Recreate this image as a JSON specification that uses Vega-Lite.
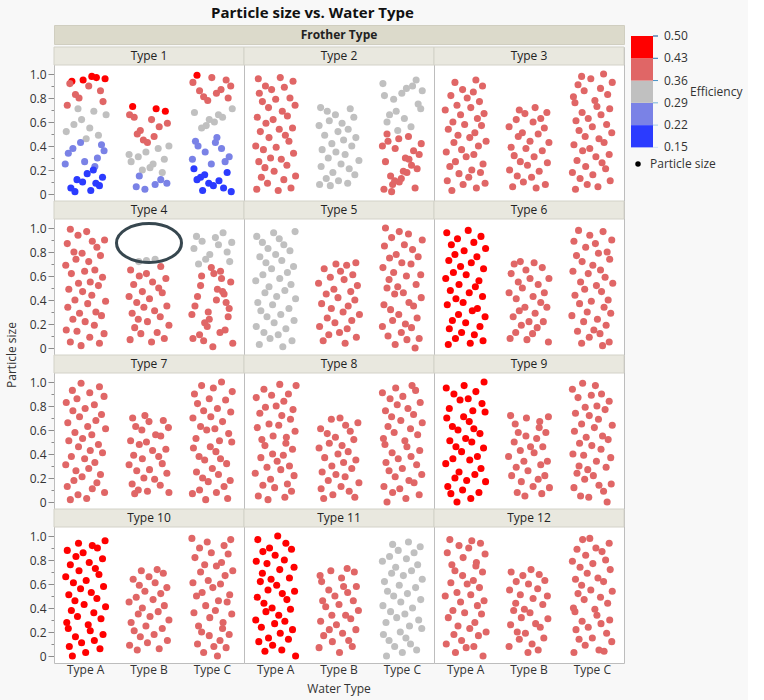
{
"$schema":"https://vega.github.io/schema/vega-lite/v6.json",
"background":"#F8F8F8",
"padding":5,
"title":{"text":"Particle size vs. Water Type","fontSize":15,"fontWeight":"bold","font":"Open Sans","color":"#111111","anchor":"start","frame":"bounds","dx":205},
"datasets":{
"leg":[{"lo":0.15,"hi":0.22,"e":0.185},{"lo":0.22,"hi":0.29,"e":0.255},{"lo":0.29,"hi":0.36,"e":0.325},{"lo":0.36,"hi":0.43,"e":0.395},{"lo":0.43,"hi":0.5,"e":0.465}],
"lt":[{"v":0.15},{"v":0.22},{"v":0.29},{"v":0.36},{"v":0.43},{"v":0.5}],
"grp":[
{"g":"1Ar","n":"Type 1","w":"Type A","r":1,"c":1,"e":0.47},{"g":"1As","n":"Type 1","w":"Type A","r":1,"c":1,"e":0.40},{"g":"1Ag","n":"Type 1","w":"Type A","r":1,"c":1,"e":0.33},{"g":"1Al","n":"Type 1","w":"Type A","r":1,"c":1,"e":0.26},{"g":"1Ab","n":"Type 1","w":"Type A","r":1,"c":1,"e":0.18},
{"g":"1Br","n":"Type 1","w":"Type B","r":1,"c":1,"e":0.47},{"g":"1Bs","n":"Type 1","w":"Type B","r":1,"c":1,"e":0.40},{"g":"1Bg","n":"Type 1","w":"Type B","r":1,"c":1,"e":0.33},{"g":"1Bl","n":"Type 1","w":"Type B","r":1,"c":1,"e":0.26},
{"g":"1Cr","n":"Type 1","w":"Type C","r":1,"c":1,"e":0.47},{"g":"1Cs","n":"Type 1","w":"Type C","r":1,"c":1,"e":0.40},{"g":"1Cg","n":"Type 1","w":"Type C","r":1,"c":1,"e":0.33},{"g":"1Cl","n":"Type 1","w":"Type C","r":1,"c":1,"e":0.26},{"g":"1Cb","n":"Type 1","w":"Type C","r":1,"c":1,"e":0.18},
{"g":"2A","n":"Type 2","w":"Type A","r":1,"c":2,"e":0.40},{"g":"2B","n":"Type 2","w":"Type B","r":1,"c":2,"e":0.33},{"g":"2Cg","n":"Type 2","w":"Type C","r":1,"c":2,"e":0.33},{"g":"2Cs","n":"Type 2","w":"Type C","r":1,"c":2,"e":0.40},
{"g":"3A","n":"Type 3","w":"Type A","r":1,"c":3,"e":0.40},{"g":"3B","n":"Type 3","w":"Type B","r":1,"c":3,"e":0.40},{"g":"3C","n":"Type 3","w":"Type C","r":1,"c":3,"e":0.40},
{"g":"4A","n":"Type 4","w":"Type A","r":2,"c":1,"e":0.40},{"g":"4Bg","n":"Type 4","w":"Type B","r":2,"c":1,"e":0.33},{"g":"4Bs","n":"Type 4","w":"Type B","r":2,"c":1,"e":0.40},{"g":"4Cg","n":"Type 4","w":"Type C","r":2,"c":1,"e":0.33},{"g":"4Cs","n":"Type 4","w":"Type C","r":2,"c":1,"e":0.40},
{"g":"5A","n":"Type 5","w":"Type A","r":2,"c":2,"e":0.33},{"g":"5B","n":"Type 5","w":"Type B","r":2,"c":2,"e":0.40},{"g":"5C","n":"Type 5","w":"Type C","r":2,"c":2,"e":0.40},
{"g":"6A","n":"Type 6","w":"Type A","r":2,"c":3,"e":0.47},{"g":"6B","n":"Type 6","w":"Type B","r":2,"c":3,"e":0.40},{"g":"6C","n":"Type 6","w":"Type C","r":2,"c":3,"e":0.40},
{"g":"7A","n":"Type 7","w":"Type A","r":3,"c":1,"e":0.40},{"g":"7B","n":"Type 7","w":"Type B","r":3,"c":1,"e":0.40},{"g":"7C","n":"Type 7","w":"Type C","r":3,"c":1,"e":0.40},
{"g":"8A","n":"Type 8","w":"Type A","r":3,"c":2,"e":0.40},{"g":"8B","n":"Type 8","w":"Type B","r":3,"c":2,"e":0.40},{"g":"8C","n":"Type 8","w":"Type C","r":3,"c":2,"e":0.40},
{"g":"9A","n":"Type 9","w":"Type A","r":3,"c":3,"e":0.47},{"g":"9B","n":"Type 9","w":"Type B","r":3,"c":3,"e":0.40},{"g":"9C","n":"Type 9","w":"Type C","r":3,"c":3,"e":0.40},
{"g":"10A","n":"Type 10","w":"Type A","r":4,"c":1,"e":0.47},{"g":"10B","n":"Type 10","w":"Type B","r":4,"c":1,"e":0.40},{"g":"10C","n":"Type 10","w":"Type C","r":4,"c":1,"e":0.40},
{"g":"11A","n":"Type 11","w":"Type A","r":4,"c":2,"e":0.47},{"g":"11B","n":"Type 11","w":"Type B","r":4,"c":2,"e":0.40},{"g":"11C","n":"Type 11","w":"Type C","r":4,"c":2,"e":0.33},
{"g":"12A","n":"Type 12","w":"Type A","r":4,"c":3,"e":0.40},{"g":"12B","n":"Type 12","w":"Type B","r":4,"c":3,"e":0.40},{"g":"12C","n":"Type 12","w":"Type C","r":4,"c":3,"e":0.40},
{"g":"ann","n":"Type 4","w":"Type B","r":2,"c":1}
],
"pts":[
{"g":"1Ar","j":23,"y":0.94},{"g":"1Ar","j":71,"y":0.97},{"g":"1Ar","j":45,"y":0.95},{"g":"1Ar","j":88,"y":0.96},{"g":"1Ar","j":62,"y":0.98},
{"g":"1As","j":14,"y":0.74},{"g":"1As","j":56,"y":0.90},{"g":"1As","j":37,"y":0.80},{"g":"1As","j":79,"y":0.86},{"g":"1As","j":19,"y":0.92},{"g":"1As","j":84,"y":0.77},{"g":"1As","j":30,"y":0.83},
{"g":"1Ag","j":51,"y":0.46},{"g":"1Ag","j":66,"y":0.69},{"g":"1Ag","j":12,"y":0.52},{"g":"1Ag","j":42,"y":0.62},{"g":"1Ag","j":75,"y":0.49},{"g":"1Ag","j":27,"y":0.58},{"g":"1Ag","j":90,"y":0.66},{"g":"1Ag","j":58,"y":0.55},{"g":"1Ag","j":35,"y":0.71},
{"g":"1Al","j":68,"y":0.23},{"g":"1Al","j":16,"y":0.34},{"g":"1Al","j":81,"y":0.41},{"g":"1Al","j":48,"y":0.27},{"g":"1Al","j":25,"y":0.38},{"g":"1Al","j":73,"y":0.30},{"g":"1Al","j":40,"y":0.43},{"g":"1Al","j":86,"y":0.36},{"g":"1Al","j":10,"y":0.25},
{"g":"1Ab","j":60,"y":0.03},{"g":"1Ab","j":33,"y":0.12},{"g":"1Ab","j":77,"y":0.07},{"g":"1Ab","j":53,"y":0.17},{"g":"1Ab","j":21,"y":0.05},{"g":"1Ab","j":65,"y":0.20},{"g":"1Ab","j":44,"y":0.10},{"g":"1Ab","j":83,"y":0.14},{"g":"1Ab","j":29,"y":0.02},{"g":"1Ab","j":70,"y":0.09},
{"g":"1Br","j":64,"y":0.71},{"g":"1Br","j":18,"y":0.73},{"g":"1Br","j":82,"y":0.69},
{"g":"1Bs","j":39,"y":0.45},{"g":"1Bs","j":55,"y":0.62},{"g":"1Bs","j":27,"y":0.50},{"g":"1Bs","j":70,"y":0.56},{"g":"1Bs","j":12,"y":0.66},{"g":"1Bs","j":47,"y":0.43},{"g":"1Bs","j":86,"y":0.59},{"g":"1Bs","j":33,"y":0.53},{"g":"1Bs","j":60,"y":0.48},{"g":"1Bs","j":21,"y":0.64},
{"g":"1Bg","j":76,"y":0.18},{"g":"1Bg","j":44,"y":0.35},{"g":"1Bg","j":15,"y":0.27},{"g":"1Bg","j":89,"y":0.40},{"g":"1Bg","j":52,"y":0.22},{"g":"1Bg","j":29,"y":0.31},{"g":"1Bg","j":68,"y":0.38},{"g":"1Bg","j":37,"y":0.20},{"g":"1Bg","j":80,"y":0.29},{"g":"1Bg","j":11,"y":0.33},{"g":"1Bg","j":58,"y":0.25},
{"g":"1Bl","j":25,"y":0.06},{"g":"1Bl","j":73,"y":0.12},{"g":"1Bl","j":42,"y":0.04},{"g":"1Bl","j":85,"y":0.09},{"g":"1Bl","j":31,"y":0.15},{"g":"1Bl","j":62,"y":0.08},
{"g":"1Cr","j":20,"y":0.99},
{"g":"1Cs","j":41,"y":0.78},{"g":"1Cs","j":77,"y":0.95},{"g":"1Cs","j":58,"y":0.84},{"g":"1Cs","j":86,"y":0.90},{"g":"1Cs","j":33,"y":0.81},{"g":"1Cs","j":12,"y":0.93},{"g":"1Cs","j":67,"y":0.87},{"g":"1Cs","j":49,"y":0.97},{"g":"1Cs","j":25,"y":0.86},{"g":"1Cs","j":81,"y":0.80},
{"g":"1Cg","j":38,"y":0.57},{"g":"1Cg","j":70,"y":0.64},{"g":"1Cg","j":15,"y":0.68},{"g":"1Cg","j":54,"y":0.60},{"g":"1Cg","j":89,"y":0.71},{"g":"1Cg","j":29,"y":0.55},{"g":"1Cg","j":62,"y":0.66},{"g":"1Cg","j":44,"y":0.62},
{"g":"1Cl","j":17,"y":0.44},{"g":"1Cl","j":75,"y":0.27},{"g":"1Cl","j":36,"y":0.35},{"g":"1Cl","j":59,"y":0.47},{"g":"1Cl","j":83,"y":0.31},{"g":"1Cl","j":22,"y":0.40},{"g":"1Cl","j":48,"y":0.25},{"g":"1Cl","j":68,"y":0.38},{"g":"1Cl","j":11,"y":0.29},{"g":"1Cl","j":56,"y":0.43},
{"g":"1Cb","j":31,"y":0.03},{"g":"1Cb","j":79,"y":0.18},{"g":"1Cb","j":43,"y":0.09},{"g":"1Cb","j":27,"y":0.14},{"g":"1Cb","j":72,"y":0.05},{"g":"1Cb","j":14,"y":0.21},{"g":"1Cb","j":63,"y":0.11},{"g":"1Cb","j":87,"y":0.02},{"g":"1Cb","j":35,"y":0.16},{"g":"1Cb","j":52,"y":0.07},{"g":"1Cb","j":20,"y":0.12},
{"g":"2A","j":55,"y":0.03},{"g":"2A","j":13,"y":0.04},{"g":"2A","j":80,"y":0.05},{"g":"2A","j":34,"y":0.09},{"g":"2A","j":66,"y":0.12},{"g":"2A","j":22,"y":0.14},{"g":"2A","j":89,"y":0.15},{"g":"2A","j":47,"y":0.19},{"g":"2A","j":29,"y":0.22},{"g":"2A","j":72,"y":0.24},{"g":"2A","j":17,"y":0.27},{"g":"2A","j":61,"y":0.29},{"g":"2A","j":40,"y":0.30},{"g":"2A","j":85,"y":0.34},{"g":"2A","j":26,"y":0.37},{"g":"2A","j":51,"y":0.39},{"g":"2A","j":11,"y":0.40},{"g":"2A","j":76,"y":0.44},{"g":"2A","j":37,"y":0.47},{"g":"2A","j":69,"y":0.49},{"g":"2A","j":20,"y":0.52},{"g":"2A","j":57,"y":0.54},{"g":"2A","j":83,"y":0.55},{"g":"2A","j":31,"y":0.59},{"g":"2A","j":45,"y":0.62},{"g":"2A","j":14,"y":0.64},{"g":"2A","j":73,"y":0.65},{"g":"2A","j":63,"y":0.69},{"g":"2A","j":36,"y":0.72},{"g":"2A","j":88,"y":0.74},{"g":"2A","j":24,"y":0.77},{"g":"2A","j":50,"y":0.79},{"g":"2A","j":78,"y":0.80},{"g":"2A","j":18,"y":0.84},{"g":"2A","j":42,"y":0.87},{"g":"2A","j":67,"y":0.89},{"g":"2A","j":30,"y":0.90},{"g":"2A","j":84,"y":0.94},{"g":"2A","j":59,"y":0.97},{"g":"2A","j":16,"y":0.96},
{"g":"2B","j":33,"y":0.07},{"g":"2B","j":12,"y":0.08},{"g":"2B","j":67,"y":0.09},{"g":"2B","j":49,"y":0.11},{"g":"2B","j":25,"y":0.13},{"g":"2B","j":81,"y":0.16},{"g":"2B","j":38,"y":0.18},{"g":"2B","j":70,"y":0.21},{"g":"2B","j":15,"y":0.23},{"g":"2B","j":54,"y":0.25},{"g":"2B","j":89,"y":0.28},{"g":"2B","j":29,"y":0.30},{"g":"2B","j":62,"y":0.33},{"g":"2B","j":44,"y":0.35},{"g":"2B","j":17,"y":0.37},{"g":"2B","j":75,"y":0.40},{"g":"2B","j":36,"y":0.42},{"g":"2B","j":59,"y":0.45},{"g":"2B","j":83,"y":0.47},{"g":"2B","j":22,"y":0.49},{"g":"2B","j":48,"y":0.52},{"g":"2B","j":68,"y":0.54},{"g":"2B","j":11,"y":0.57},{"g":"2B","j":56,"y":0.59},{"g":"2B","j":31,"y":0.61},{"g":"2B","j":79,"y":0.64},{"g":"2B","j":43,"y":0.66},{"g":"2B","j":27,"y":0.69},{"g":"2B","j":72,"y":0.71},{"g":"2B","j":14,"y":0.72},
{"g":"2Cg","j":41,"y":0.53},{"g":"2Cg","j":77,"y":0.95},{"g":"2Cg","j":20,"y":0.60},{"g":"2Cg","j":58,"y":0.88},{"g":"2Cg","j":86,"y":0.71},{"g":"2Cg","j":33,"y":0.79},{"g":"2Cg","j":12,"y":0.92},{"g":"2Cg","j":67,"y":0.56},{"g":"2Cg","j":49,"y":0.84},{"g":"2Cg","j":25,"y":0.66},{"g":"2Cg","j":81,"y":0.75},{"g":"2Cg","j":38,"y":0.69},{"g":"2Cg","j":70,"y":0.90},{"g":"2Cg","j":15,"y":0.82},{"g":"2Cg","j":54,"y":0.63},{"g":"2Cg","j":89,"y":0.86},
{"g":"2Cs","j":29,"y":0.02},{"g":"2Cs","j":62,"y":0.48},{"g":"2Cs","j":44,"y":0.10},{"g":"2Cs","j":17,"y":0.27},{"g":"2Cs","j":75,"y":0.05},{"g":"2Cs","j":36,"y":0.38},{"g":"2Cs","j":59,"y":0.18},{"g":"2Cs","j":83,"y":0.33},{"g":"2Cs","j":22,"y":0.44},{"g":"2Cs","j":48,"y":0.13},{"g":"2Cs","j":68,"y":0.24},{"g":"2Cs","j":11,"y":0.40},{"g":"2Cs","j":56,"y":0.30},{"g":"2Cs","j":31,"y":0.08},{"g":"2Cs","j":79,"y":0.21},{"g":"2Cs","j":43,"y":0.46},{"g":"2Cs","j":27,"y":0.15},{"g":"2Cs","j":72,"y":0.36},{"g":"2Cs","j":14,"y":0.04},{"g":"2Cs","j":63,"y":0.29},{"g":"2Cs","j":87,"y":0.42},{"g":"2Cs","j":35,"y":0.11},{"g":"2Cs","j":52,"y":0.19},{"g":"2Cs","j":20,"y":0.50},
{"g":"3A","j":23,"y":0.03},{"g":"3A","j":71,"y":0.05},{"g":"3A","j":45,"y":0.08},{"g":"3A","j":88,"y":0.09},{"g":"3A","j":14,"y":0.11},{"g":"3A","j":56,"y":0.14},{"g":"3A","j":37,"y":0.17},{"g":"3A","j":79,"y":0.18},{"g":"3A","j":62,"y":0.20},{"g":"3A","j":19,"y":0.23},{"g":"3A","j":84,"y":0.25},{"g":"3A","j":30,"y":0.27},{"g":"3A","j":51,"y":0.31},{"g":"3A","j":66,"y":0.33},{"g":"3A","j":12,"y":0.35},{"g":"3A","j":42,"y":0.37},{"g":"3A","j":75,"y":0.40},{"g":"3A","j":27,"y":0.43},{"g":"3A","j":90,"y":0.44},{"g":"3A","j":58,"y":0.47},{"g":"3A","j":35,"y":0.49},{"g":"3A","j":68,"y":0.51},{"g":"3A","j":16,"y":0.54},{"g":"3A","j":81,"y":0.57},{"g":"3A","j":48,"y":0.58},{"g":"3A","j":25,"y":0.60},{"g":"3A","j":73,"y":0.63},{"g":"3A","j":40,"y":0.66},{"g":"3A","j":86,"y":0.67},{"g":"3A","j":10,"y":0.70},{"g":"3A","j":60,"y":0.72},{"g":"3A","j":33,"y":0.74},{"g":"3A","j":77,"y":0.77},{"g":"3A","j":53,"y":0.80},{"g":"3A","j":21,"y":0.82},{"g":"3A","j":65,"y":0.85},{"g":"3A","j":44,"y":0.87},{"g":"3A","j":83,"y":0.90},{"g":"3A","j":29,"y":0.93},{"g":"3A","j":70,"y":0.95},
{"g":"3B","j":64,"y":0.05},{"g":"3B","j":18,"y":0.06},{"g":"3B","j":82,"y":0.08},{"g":"3B","j":39,"y":0.10},{"g":"3B","j":55,"y":0.14},{"g":"3B","j":27,"y":0.15},{"g":"3B","j":70,"y":0.19},{"g":"3B","j":12,"y":0.20},{"g":"3B","j":47,"y":0.24},{"g":"3B","j":86,"y":0.26},{"g":"3B","j":33,"y":0.27},{"g":"3B","j":60,"y":0.31},{"g":"3B","j":21,"y":0.32},{"g":"3B","j":76,"y":0.36},{"g":"3B","j":44,"y":0.38},{"g":"3B","j":15,"y":0.39},{"g":"3B","j":89,"y":0.43},{"g":"3B","j":52,"y":0.44},{"g":"3B","j":29,"y":0.48},{"g":"3B","j":68,"y":0.50},{"g":"3B","j":37,"y":0.51},{"g":"3B","j":80,"y":0.55},{"g":"3B","j":11,"y":0.56},{"g":"3B","j":58,"y":0.60},{"g":"3B","j":25,"y":0.62},{"g":"3B","j":73,"y":0.63},{"g":"3B","j":42,"y":0.67},{"g":"3B","j":85,"y":0.68},{"g":"3B","j":31,"y":0.70},{"g":"3B","j":62,"y":0.72},
{"g":"3C","j":17,"y":0.04},{"g":"3C","j":61,"y":0.06},{"g":"3C","j":40,"y":0.08},{"g":"3C","j":85,"y":0.11},{"g":"3C","j":26,"y":0.13},{"g":"3C","j":51,"y":0.16},{"g":"3C","j":11,"y":0.18},{"g":"3C","j":76,"y":0.21},{"g":"3C","j":37,"y":0.23},{"g":"3C","j":69,"y":0.26},{"g":"3C","j":20,"y":0.28},{"g":"3C","j":57,"y":0.31},{"g":"3C","j":83,"y":0.33},{"g":"3C","j":31,"y":0.36},{"g":"3C","j":45,"y":0.38},{"g":"3C","j":14,"y":0.41},{"g":"3C","j":73,"y":0.43},{"g":"3C","j":63,"y":0.46},{"g":"3C","j":36,"y":0.48},{"g":"3C","j":88,"y":0.51},{"g":"3C","j":24,"y":0.53},{"g":"3C","j":50,"y":0.56},{"g":"3C","j":78,"y":0.58},{"g":"3C","j":18,"y":0.61},{"g":"3C","j":42,"y":0.63},{"g":"3C","j":67,"y":0.66},{"g":"3C","j":30,"y":0.68},{"g":"3C","j":84,"y":0.71},{"g":"3C","j":59,"y":0.73},{"g":"3C","j":16,"y":0.76},{"g":"3C","j":55,"y":0.78},{"g":"3C","j":13,"y":0.81},{"g":"3C","j":80,"y":0.83},{"g":"3C","j":34,"y":0.86},{"g":"3C","j":66,"y":0.88},{"g":"3C","j":22,"y":0.91},{"g":"3C","j":89,"y":0.93},{"g":"3C","j":47,"y":0.96},{"g":"3C","j":29,"y":0.98},{"g":"3C","j":72,"y":1.00},
{"g":"4A","j":41,"y":0.02},{"g":"4A","j":77,"y":0.04},{"g":"4A","j":20,"y":0.05},{"g":"4A","j":58,"y":0.09},{"g":"4A","j":86,"y":0.12},{"g":"4A","j":33,"y":0.14},{"g":"4A","j":12,"y":0.15},{"g":"4A","j":67,"y":0.19},{"g":"4A","j":49,"y":0.22},{"g":"4A","j":25,"y":0.24},{"g":"4A","j":81,"y":0.27},{"g":"4A","j":38,"y":0.29},{"g":"4A","j":70,"y":0.30},{"g":"4A","j":15,"y":0.34},{"g":"4A","j":54,"y":0.37},{"g":"4A","j":89,"y":0.39},{"g":"4A","j":29,"y":0.40},{"g":"4A","j":62,"y":0.44},{"g":"4A","j":44,"y":0.47},{"g":"4A","j":17,"y":0.49},{"g":"4A","j":75,"y":0.52},{"g":"4A","j":36,"y":0.54},{"g":"4A","j":59,"y":0.55},{"g":"4A","j":83,"y":0.59},{"g":"4A","j":22,"y":0.62},{"g":"4A","j":48,"y":0.64},{"g":"4A","j":68,"y":0.65},{"g":"4A","j":11,"y":0.69},{"g":"4A","j":56,"y":0.72},{"g":"4A","j":31,"y":0.74},{"g":"4A","j":79,"y":0.77},{"g":"4A","j":43,"y":0.79},{"g":"4A","j":27,"y":0.80},{"g":"4A","j":72,"y":0.84},{"g":"4A","j":14,"y":0.87},{"g":"4A","j":63,"y":0.89},{"g":"4A","j":87,"y":0.90},{"g":"4A","j":35,"y":0.94},{"g":"4A","j":52,"y":0.97},{"g":"4A","j":20,"y":0.99},
{"g":"4Bg","j":45,"y":0.73},{"g":"4Bg","j":62,"y":0.74},{"g":"4Bg","j":30,"y":0.72},
{"g":"4Bs","j":55,"y":0.05},{"g":"4Bs","j":13,"y":0.07},{"g":"4Bs","j":80,"y":0.08},{"g":"4Bs","j":34,"y":0.12},{"g":"4Bs","j":66,"y":0.13},{"g":"4Bs","j":22,"y":0.17},{"g":"4Bs","j":89,"y":0.19},{"g":"4Bs","j":47,"y":0.22},{"g":"4Bs","j":29,"y":0.24},{"g":"4Bs","j":72,"y":0.26},{"g":"4Bs","j":17,"y":0.29},{"g":"4Bs","j":61,"y":0.31},{"g":"4Bs","j":40,"y":0.34},{"g":"4Bs","j":85,"y":0.35},{"g":"4Bs","j":26,"y":0.38},{"g":"4Bs","j":51,"y":0.41},{"g":"4Bs","j":11,"y":0.43},{"g":"4Bs","j":76,"y":0.46},{"g":"4Bs","j":37,"y":0.47},{"g":"4Bs","j":69,"y":0.50},{"g":"4Bs","j":20,"y":0.53},{"g":"4Bs","j":57,"y":0.55},{"g":"4Bs","j":83,"y":0.58},{"g":"4Bs","j":31,"y":0.60},{"g":"4Bs","j":45,"y":0.62},{"g":"4Bs","j":14,"y":0.65},{"g":"4Bs","j":73,"y":0.68},
{"g":"4Cg","j":23,"y":0.70},{"g":"4Cg","j":71,"y":0.96},{"g":"4Cg","j":45,"y":0.78},{"g":"4Cg","j":88,"y":0.88},{"g":"4Cg","j":14,"y":0.83},{"g":"4Cg","j":56,"y":0.92},{"g":"4Cg","j":37,"y":0.74},{"g":"4Cg","j":79,"y":0.80},{"g":"4Cg","j":62,"y":0.86},{"g":"4Cg","j":19,"y":0.93},{"g":"4Cg","j":84,"y":0.72},{"g":"4Cg","j":30,"y":0.89},
{"g":"4Cs","j":51,"y":0.01},{"g":"4Cs","j":66,"y":0.64},{"g":"4Cs","j":12,"y":0.08},{"g":"4Cs","j":42,"y":0.30},{"g":"4Cs","j":75,"y":0.15},{"g":"4Cs","j":27,"y":0.52},{"g":"4Cs","j":90,"y":0.04},{"g":"4Cs","j":58,"y":0.40},{"g":"4Cs","j":35,"y":0.21},{"g":"4Cs","j":68,"y":0.58},{"g":"4Cs","j":16,"y":0.35},{"g":"4Cs","j":81,"y":0.26},{"g":"4Cs","j":48,"y":0.67},{"g":"4Cs","j":25,"y":0.11},{"g":"4Cs","j":73,"y":0.45},{"g":"4Cs","j":40,"y":0.18},{"g":"4Cs","j":86,"y":0.55},{"g":"4Cs","j":10,"y":0.28},{"g":"4Cs","j":60,"y":0.49},{"g":"4Cs","j":33,"y":0.06},{"g":"4Cs","j":77,"y":0.38},{"g":"4Cs","j":53,"y":0.62},{"g":"4Cs","j":21,"y":0.43},{"g":"4Cs","j":65,"y":0.13},{"g":"4Cs","j":44,"y":0.24},{"g":"4Cs","j":83,"y":0.33},{"g":"4Cs","j":29,"y":0.60},{"g":"4Cs","j":70,"y":0.47},
{"g":"5A","j":64,"y":0.01},{"g":"5A","j":18,"y":0.03},{"g":"5A","j":82,"y":0.06},{"g":"5A","j":39,"y":0.08},{"g":"5A","j":55,"y":0.11},{"g":"5A","j":27,"y":0.13},{"g":"5A","j":70,"y":0.16},{"g":"5A","j":12,"y":0.18},{"g":"5A","j":47,"y":0.21},{"g":"5A","j":86,"y":0.23},{"g":"5A","j":33,"y":0.26},{"g":"5A","j":60,"y":0.28},{"g":"5A","j":21,"y":0.31},{"g":"5A","j":76,"y":0.33},{"g":"5A","j":44,"y":0.36},{"g":"5A","j":15,"y":0.38},{"g":"5A","j":89,"y":0.41},{"g":"5A","j":52,"y":0.43},{"g":"5A","j":29,"y":0.46},{"g":"5A","j":68,"y":0.48},{"g":"5A","j":37,"y":0.51},{"g":"5A","j":80,"y":0.53},{"g":"5A","j":11,"y":0.56},{"g":"5A","j":58,"y":0.58},{"g":"5A","j":25,"y":0.61},{"g":"5A","j":73,"y":0.63},{"g":"5A","j":42,"y":0.66},{"g":"5A","j":85,"y":0.68},{"g":"5A","j":31,"y":0.71},{"g":"5A","j":62,"y":0.73},{"g":"5A","j":19,"y":0.76},{"g":"5A","j":50,"y":0.78},{"g":"5A","j":78,"y":0.81},{"g":"5A","j":35,"y":0.83},{"g":"5A","j":66,"y":0.86},{"g":"5A","j":24,"y":0.88},{"g":"5A","j":57,"y":0.91},{"g":"5A","j":13,"y":0.93},{"g":"5A","j":46,"y":0.96},{"g":"5A","j":88,"y":0.97},
{"g":"5B","j":62,"y":0.04},{"g":"5B","j":19,"y":0.06},{"g":"5B","j":84,"y":0.09},{"g":"5B","j":30,"y":0.11},{"g":"5B","j":51,"y":0.13},{"g":"5B","j":66,"y":0.16},{"g":"5B","j":12,"y":0.18},{"g":"5B","j":42,"y":0.21},{"g":"5B","j":75,"y":0.23},{"g":"5B","j":27,"y":0.25},{"g":"5B","j":90,"y":0.28},{"g":"5B","j":58,"y":0.30},{"g":"5B","j":35,"y":0.33},{"g":"5B","j":68,"y":0.35},{"g":"5B","j":16,"y":0.37},{"g":"5B","j":81,"y":0.40},{"g":"5B","j":48,"y":0.42},{"g":"5B","j":25,"y":0.45},{"g":"5B","j":73,"y":0.47},{"g":"5B","j":40,"y":0.49},{"g":"5B","j":86,"y":0.52},{"g":"5B","j":10,"y":0.54},{"g":"5B","j":60,"y":0.57},{"g":"5B","j":33,"y":0.59},{"g":"5B","j":77,"y":0.61},{"g":"5B","j":53,"y":0.64},{"g":"5B","j":21,"y":0.66},{"g":"5B","j":65,"y":0.69},{"g":"5B","j":44,"y":0.70},{"g":"5B","j":83,"y":0.71},
{"g":"5C","j":75,"y":0.00},{"g":"5C","j":36,"y":0.03},{"g":"5C","j":59,"y":0.07},{"g":"5C","j":83,"y":0.08},{"g":"5C","j":22,"y":0.10},{"g":"5C","j":48,"y":0.13},{"g":"5C","j":68,"y":0.17},{"g":"5C","j":11,"y":0.18},{"g":"5C","j":56,"y":0.20},{"g":"5C","j":31,"y":0.23},{"g":"5C","j":79,"y":0.25},{"g":"5C","j":43,"y":0.28},{"g":"5C","j":27,"y":0.32},{"g":"5C","j":72,"y":0.35},{"g":"5C","j":14,"y":0.36},{"g":"5C","j":63,"y":0.38},{"g":"5C","j":87,"y":0.42},{"g":"5C","j":35,"y":0.45},{"g":"5C","j":52,"y":0.46},{"g":"5C","j":20,"y":0.50},{"g":"5C","j":41,"y":0.51},{"g":"5C","j":77,"y":0.53},{"g":"5C","j":24,"y":0.57},{"g":"5C","j":58,"y":0.60},{"g":"5C","j":86,"y":0.61},{"g":"5C","j":33,"y":0.63},{"g":"5C","j":12,"y":0.67},{"g":"5C","j":67,"y":0.70},{"g":"5C","j":49,"y":0.71},{"g":"5C","j":25,"y":0.75},{"g":"5C","j":81,"y":0.76},{"g":"5C","j":38,"y":0.78},{"g":"5C","j":70,"y":0.82},{"g":"5C","j":15,"y":0.85},{"g":"5C","j":54,"y":0.86},{"g":"5C","j":89,"y":0.90},{"g":"5C","j":29,"y":0.92},{"g":"5C","j":62,"y":0.95},{"g":"5C","j":44,"y":0.97},{"g":"5C","j":17,"y":1.00},
{"g":"6A","j":16,"y":0.03},{"g":"6A","j":59,"y":0.04},{"g":"6A","j":84,"y":0.06},{"g":"6A","j":30,"y":0.08},{"g":"6A","j":67,"y":0.11},{"g":"6A","j":42,"y":0.13},{"g":"6A","j":18,"y":0.16},{"g":"6A","j":78,"y":0.18},{"g":"6A","j":50,"y":0.21},{"g":"6A","j":24,"y":0.23},{"g":"6A","j":88,"y":0.26},{"g":"6A","j":36,"y":0.28},{"g":"6A","j":63,"y":0.31},{"g":"6A","j":73,"y":0.33},{"g":"6A","j":14,"y":0.36},{"g":"6A","j":45,"y":0.38},{"g":"6A","j":31,"y":0.41},{"g":"6A","j":83,"y":0.43},{"g":"6A","j":57,"y":0.46},{"g":"6A","j":20,"y":0.48},{"g":"6A","j":69,"y":0.51},{"g":"6A","j":37,"y":0.53},{"g":"6A","j":76,"y":0.56},{"g":"6A","j":11,"y":0.58},{"g":"6A","j":51,"y":0.61},{"g":"6A","j":26,"y":0.63},{"g":"6A","j":85,"y":0.66},{"g":"6A","j":40,"y":0.68},{"g":"6A","j":61,"y":0.71},{"g":"6A","j":17,"y":0.73},{"g":"6A","j":72,"y":0.76},{"g":"6A","j":29,"y":0.78},{"g":"6A","j":47,"y":0.81},{"g":"6A","j":89,"y":0.83},{"g":"6A","j":22,"y":0.86},{"g":"6A","j":66,"y":0.88},{"g":"6A","j":34,"y":0.91},{"g":"6A","j":80,"y":0.93},{"g":"6A","j":13,"y":0.96},{"g":"6A","j":55,"y":0.98},
{"g":"6B","j":88,"y":0.05},{"g":"6B","j":46,"y":0.07},{"g":"6B","j":13,"y":0.08},{"g":"6B","j":57,"y":0.12},{"g":"6B","j":24,"y":0.13},{"g":"6B","j":66,"y":0.17},{"g":"6B","j":35,"y":0.19},{"g":"6B","j":78,"y":0.22},{"g":"6B","j":50,"y":0.22},{"g":"6B","j":19,"y":0.26},{"g":"6B","j":62,"y":0.29},{"g":"6B","j":31,"y":0.31},{"g":"6B","j":85,"y":0.34},{"g":"6B","j":42,"y":0.34},{"g":"6B","j":73,"y":0.38},{"g":"6B","j":25,"y":0.41},{"g":"6B","j":58,"y":0.43},{"g":"6B","j":11,"y":0.46},{"g":"6B","j":80,"y":0.46},{"g":"6B","j":37,"y":0.50},{"g":"6B","j":68,"y":0.53},{"g":"6B","j":29,"y":0.55},{"g":"6B","j":52,"y":0.58},{"g":"6B","j":89,"y":0.58},{"g":"6B","j":15,"y":0.62},{"g":"6B","j":44,"y":0.65},{"g":"6B","j":76,"y":0.67},{"g":"6B","j":21,"y":0.70},{"g":"6B","j":60,"y":0.71},{"g":"6B","j":33,"y":0.72},
{"g":"6C","j":70,"y":0.02},{"g":"6C","j":29,"y":0.04},{"g":"6C","j":83,"y":0.05},{"g":"6C","j":44,"y":0.09},{"g":"6C","j":65,"y":0.12},{"g":"6C","j":21,"y":0.14},{"g":"6C","j":53,"y":0.15},{"g":"6C","j":77,"y":0.19},{"g":"6C","j":33,"y":0.22},{"g":"6C","j":60,"y":0.24},{"g":"6C","j":10,"y":0.27},{"g":"6C","j":86,"y":0.29},{"g":"6C","j":40,"y":0.30},{"g":"6C","j":73,"y":0.34},{"g":"6C","j":25,"y":0.37},{"g":"6C","j":48,"y":0.39},{"g":"6C","j":81,"y":0.40},{"g":"6C","j":16,"y":0.44},{"g":"6C","j":68,"y":0.47},{"g":"6C","j":35,"y":0.49},{"g":"6C","j":58,"y":0.52},{"g":"6C","j":90,"y":0.54},{"g":"6C","j":27,"y":0.55},{"g":"6C","j":75,"y":0.59},{"g":"6C","j":42,"y":0.62},{"g":"6C","j":12,"y":0.64},{"g":"6C","j":66,"y":0.65},{"g":"6C","j":51,"y":0.69},{"g":"6C","j":30,"y":0.72},{"g":"6C","j":84,"y":0.74},{"g":"6C","j":19,"y":0.77},{"g":"6C","j":62,"y":0.79},{"g":"6C","j":79,"y":0.80},{"g":"6C","j":37,"y":0.84},{"g":"6C","j":56,"y":0.87},{"g":"6C","j":14,"y":0.89},{"g":"6C","j":88,"y":0.90},{"g":"6C","j":45,"y":0.94},{"g":"6C","j":71,"y":0.97},{"g":"6C","j":23,"y":0.98},
{"g":"7A","j":20,"y":0.02},{"g":"7A","j":52,"y":0.03},{"g":"7A","j":35,"y":0.06},{"g":"7A","j":87,"y":0.08},{"g":"7A","j":63,"y":0.11},{"g":"7A","j":14,"y":0.13},{"g":"7A","j":72,"y":0.16},{"g":"7A","j":27,"y":0.18},{"g":"7A","j":43,"y":0.21},{"g":"7A","j":79,"y":0.23},{"g":"7A","j":31,"y":0.26},{"g":"7A","j":56,"y":0.28},{"g":"7A","j":11,"y":0.31},{"g":"7A","j":68,"y":0.33},{"g":"7A","j":48,"y":0.36},{"g":"7A","j":22,"y":0.38},{"g":"7A","j":83,"y":0.41},{"g":"7A","j":59,"y":0.43},{"g":"7A","j":36,"y":0.46},{"g":"7A","j":75,"y":0.48},{"g":"7A","j":17,"y":0.51},{"g":"7A","j":44,"y":0.53},{"g":"7A","j":62,"y":0.56},{"g":"7A","j":29,"y":0.58},{"g":"7A","j":89,"y":0.61},{"g":"7A","j":54,"y":0.63},{"g":"7A","j":15,"y":0.66},{"g":"7A","j":70,"y":0.68},{"g":"7A","j":38,"y":0.71},{"g":"7A","j":81,"y":0.73},{"g":"7A","j":25,"y":0.76},{"g":"7A","j":49,"y":0.78},{"g":"7A","j":67,"y":0.81},{"g":"7A","j":12,"y":0.83},{"g":"7A","j":33,"y":0.86},{"g":"7A","j":86,"y":0.88},{"g":"7A","j":58,"y":0.91},{"g":"7A","j":24,"y":0.93},{"g":"7A","j":77,"y":0.96},{"g":"7A","j":41,"y":0.99},
{"g":"7B","j":22,"y":0.07},{"g":"7B","j":89,"y":0.08},{"g":"7B","j":47,"y":0.09},{"g":"7B","j":29,"y":0.10},{"g":"7B","j":72,"y":0.14},{"g":"7B","j":17,"y":0.15},{"g":"7B","j":61,"y":0.19},{"g":"7B","j":40,"y":0.20},{"g":"7B","j":85,"y":0.24},{"g":"7B","j":26,"y":0.26},{"g":"7B","j":51,"y":0.27},{"g":"7B","j":11,"y":0.31},{"g":"7B","j":76,"y":0.32},{"g":"7B","j":37,"y":0.36},{"g":"7B","j":69,"y":0.38},{"g":"7B","j":20,"y":0.39},{"g":"7B","j":57,"y":0.43},{"g":"7B","j":83,"y":0.44},{"g":"7B","j":31,"y":0.48},{"g":"7B","j":45,"y":0.50},{"g":"7B","j":14,"y":0.51},{"g":"7B","j":73,"y":0.55},{"g":"7B","j":63,"y":0.56},{"g":"7B","j":36,"y":0.60},{"g":"7B","j":88,"y":0.62},{"g":"7B","j":24,"y":0.63},{"g":"7B","j":50,"y":0.67},{"g":"7B","j":78,"y":0.68},{"g":"7B","j":18,"y":0.70},{"g":"7B","j":42,"y":0.72},
{"g":"7C","j":37,"y":0.02},{"g":"7C","j":80,"y":0.03},{"g":"7C","j":11,"y":0.07},{"g":"7C","j":58,"y":0.08},{"g":"7C","j":25,"y":0.10},{"g":"7C","j":73,"y":0.13},{"g":"7C","j":42,"y":0.17},{"g":"7C","j":85,"y":0.18},{"g":"7C","j":31,"y":0.20},{"g":"7C","j":62,"y":0.23},{"g":"7C","j":19,"y":0.25},{"g":"7C","j":50,"y":0.28},{"g":"7C","j":78,"y":0.32},{"g":"7C","j":35,"y":0.35},{"g":"7C","j":66,"y":0.36},{"g":"7C","j":24,"y":0.38},{"g":"7C","j":57,"y":0.42},{"g":"7C","j":13,"y":0.45},{"g":"7C","j":46,"y":0.46},{"g":"7C","j":88,"y":0.50},{"g":"7C","j":64,"y":0.51},{"g":"7C","j":18,"y":0.53},{"g":"7C","j":82,"y":0.57},{"g":"7C","j":39,"y":0.60},{"g":"7C","j":55,"y":0.61},{"g":"7C","j":27,"y":0.63},{"g":"7C","j":70,"y":0.67},{"g":"7C","j":12,"y":0.70},{"g":"7C","j":47,"y":0.71},{"g":"7C","j":86,"y":0.75},{"g":"7C","j":33,"y":0.76},{"g":"7C","j":60,"y":0.78},{"g":"7C","j":21,"y":0.82},{"g":"7C","j":76,"y":0.85},{"g":"7C","j":44,"y":0.86},{"g":"7C","j":15,"y":0.90},{"g":"7C","j":89,"y":0.92},{"g":"7C","j":52,"y":0.95},{"g":"7C","j":29,"y":0.97},{"g":"7C","j":68,"y":1.00},
{"g":"8A","j":35,"y":0.02},{"g":"8A","j":68,"y":0.04},{"g":"8A","j":16,"y":0.05},{"g":"8A","j":81,"y":0.09},{"g":"8A","j":48,"y":0.12},{"g":"8A","j":25,"y":0.14},{"g":"8A","j":73,"y":0.15},{"g":"8A","j":40,"y":0.19},{"g":"8A","j":86,"y":0.22},{"g":"8A","j":10,"y":0.24},{"g":"8A","j":60,"y":0.27},{"g":"8A","j":33,"y":0.29},{"g":"8A","j":77,"y":0.30},{"g":"8A","j":53,"y":0.34},{"g":"8A","j":21,"y":0.37},{"g":"8A","j":65,"y":0.39},{"g":"8A","j":44,"y":0.40},{"g":"8A","j":83,"y":0.44},{"g":"8A","j":29,"y":0.47},{"g":"8A","j":70,"y":0.49},{"g":"8A","j":23,"y":0.52},{"g":"8A","j":71,"y":0.54},{"g":"8A","j":45,"y":0.55},{"g":"8A","j":88,"y":0.59},{"g":"8A","j":14,"y":0.62},{"g":"8A","j":56,"y":0.64},{"g":"8A","j":37,"y":0.65},{"g":"8A","j":79,"y":0.69},{"g":"8A","j":62,"y":0.72},{"g":"8A","j":19,"y":0.74},{"g":"8A","j":84,"y":0.77},{"g":"8A","j":30,"y":0.79},{"g":"8A","j":51,"y":0.80},{"g":"8A","j":66,"y":0.84},{"g":"8A","j":12,"y":0.87},{"g":"8A","j":42,"y":0.89},{"g":"8A","j":75,"y":0.90},{"g":"8A","j":27,"y":0.94},{"g":"8A","j":90,"y":0.97},{"g":"8A","j":58,"y":0.98},
{"g":"8B","j":81,"y":0.04},{"g":"8B","j":38,"y":0.06},{"g":"8B","j":70,"y":0.09},{"g":"8B","j":15,"y":0.11},{"g":"8B","j":54,"y":0.13},{"g":"8B","j":89,"y":0.16},{"g":"8B","j":29,"y":0.18},{"g":"8B","j":62,"y":0.21},{"g":"8B","j":44,"y":0.23},{"g":"8B","j":17,"y":0.25},{"g":"8B","j":75,"y":0.28},{"g":"8B","j":36,"y":0.30},{"g":"8B","j":59,"y":0.33},{"g":"8B","j":83,"y":0.35},{"g":"8B","j":22,"y":0.37},{"g":"8B","j":48,"y":0.40},{"g":"8B","j":68,"y":0.42},{"g":"8B","j":11,"y":0.45},{"g":"8B","j":56,"y":0.47},{"g":"8B","j":31,"y":0.49},{"g":"8B","j":79,"y":0.52},{"g":"8B","j":43,"y":0.54},{"g":"8B","j":27,"y":0.57},{"g":"8B","j":72,"y":0.59},{"g":"8B","j":14,"y":0.61},{"g":"8B","j":63,"y":0.64},{"g":"8B","j":87,"y":0.66},{"g":"8B","j":35,"y":0.69},{"g":"8B","j":52,"y":0.70},{"g":"8B","j":20,"y":0.03},
{"g":"8C","j":20,"y":0.00},{"g":"8C","j":57,"y":0.03},{"g":"8C","j":83,"y":0.06},{"g":"8C","j":31,"y":0.08},{"g":"8C","j":45,"y":0.11},{"g":"8C","j":14,"y":0.13},{"g":"8C","j":73,"y":0.16},{"g":"8C","j":63,"y":0.18},{"g":"8C","j":36,"y":0.21},{"g":"8C","j":88,"y":0.23},{"g":"8C","j":24,"y":0.26},{"g":"8C","j":50,"y":0.28},{"g":"8C","j":78,"y":0.31},{"g":"8C","j":18,"y":0.33},{"g":"8C","j":42,"y":0.36},{"g":"8C","j":67,"y":0.38},{"g":"8C","j":30,"y":0.41},{"g":"8C","j":84,"y":0.43},{"g":"8C","j":59,"y":0.46},{"g":"8C","j":16,"y":0.48},{"g":"8C","j":55,"y":0.51},{"g":"8C","j":13,"y":0.53},{"g":"8C","j":80,"y":0.56},{"g":"8C","j":34,"y":0.58},{"g":"8C","j":66,"y":0.61},{"g":"8C","j":22,"y":0.63},{"g":"8C","j":89,"y":0.66},{"g":"8C","j":47,"y":0.68},{"g":"8C","j":29,"y":0.71},{"g":"8C","j":72,"y":0.73},{"g":"8C","j":17,"y":0.76},{"g":"8C","j":61,"y":0.78},{"g":"8C","j":40,"y":0.81},{"g":"8C","j":85,"y":0.83},{"g":"8C","j":26,"y":0.86},{"g":"8C","j":51,"y":0.88},{"g":"8C","j":11,"y":0.91},{"g":"8C","j":76,"y":0.93},{"g":"8C","j":37,"y":0.95},{"g":"8C","j":69,"y":0.97},
{"g":"9A","j":33,"y":0.00},{"g":"9A","j":60,"y":0.03},{"g":"9A","j":21,"y":0.07},{"g":"9A","j":76,"y":0.08},{"g":"9A","j":44,"y":0.10},{"g":"9A","j":15,"y":0.13},{"g":"9A","j":89,"y":0.17},{"g":"9A","j":52,"y":0.18},{"g":"9A","j":29,"y":0.20},{"g":"9A","j":68,"y":0.23},{"g":"9A","j":37,"y":0.25},{"g":"9A","j":80,"y":0.28},{"g":"9A","j":11,"y":0.32},{"g":"9A","j":58,"y":0.35},{"g":"9A","j":25,"y":0.36},{"g":"9A","j":73,"y":0.38},{"g":"9A","j":42,"y":0.42},{"g":"9A","j":85,"y":0.45},{"g":"9A","j":31,"y":0.46},{"g":"9A","j":62,"y":0.50},{"g":"9A","j":19,"y":0.51},{"g":"9A","j":50,"y":0.53},{"g":"9A","j":78,"y":0.57},{"g":"9A","j":35,"y":0.60},{"g":"9A","j":66,"y":0.61},{"g":"9A","j":24,"y":0.63},{"g":"9A","j":57,"y":0.67},{"g":"9A","j":13,"y":0.70},{"g":"9A","j":46,"y":0.71},{"g":"9A","j":88,"y":0.75},{"g":"9A","j":64,"y":0.76},{"g":"9A","j":18,"y":0.78},{"g":"9A","j":82,"y":0.82},{"g":"9A","j":39,"y":0.85},{"g":"9A","j":55,"y":0.86},{"g":"9A","j":27,"y":0.90},{"g":"9A","j":70,"y":0.92},{"g":"9A","j":12,"y":0.95},{"g":"9A","j":47,"y":0.97},{"g":"9A","j":86,"y":1.00},
{"g":"9B","j":42,"y":0.05},{"g":"9B","j":75,"y":0.07},{"g":"9B","j":27,"y":0.08},{"g":"9B","j":90,"y":0.12},{"g":"9B","j":58,"y":0.13},{"g":"9B","j":35,"y":0.17},{"g":"9B","j":68,"y":0.19},{"g":"9B","j":16,"y":0.22},{"g":"9B","j":81,"y":0.22},{"g":"9B","j":48,"y":0.26},{"g":"9B","j":25,"y":0.29},{"g":"9B","j":73,"y":0.31},{"g":"9B","j":40,"y":0.34},{"g":"9B","j":86,"y":0.34},{"g":"9B","j":10,"y":0.38},{"g":"9B","j":60,"y":0.41},{"g":"9B","j":33,"y":0.43},{"g":"9B","j":77,"y":0.46},{"g":"9B","j":53,"y":0.46},{"g":"9B","j":21,"y":0.50},{"g":"9B","j":65,"y":0.53},{"g":"9B","j":44,"y":0.55},{"g":"9B","j":83,"y":0.58},{"g":"9B","j":29,"y":0.58},{"g":"9B","j":70,"y":0.62},{"g":"9B","j":23,"y":0.65},{"g":"9B","j":71,"y":0.67},{"g":"9B","j":45,"y":0.70},{"g":"9B","j":88,"y":0.71},{"g":"9B","j":14,"y":0.72},
{"g":"9C","j":79,"y":0.00},{"g":"9C","j":43,"y":0.04},{"g":"9C","j":27,"y":0.05},{"g":"9C","j":72,"y":0.09},{"g":"9C","j":14,"y":0.12},{"g":"9C","j":63,"y":0.14},{"g":"9C","j":87,"y":0.15},{"g":"9C","j":35,"y":0.19},{"g":"9C","j":52,"y":0.22},{"g":"9C","j":20,"y":0.24},{"g":"9C","j":41,"y":0.27},{"g":"9C","j":77,"y":0.29},{"g":"9C","j":24,"y":0.30},{"g":"9C","j":58,"y":0.34},{"g":"9C","j":86,"y":0.37},{"g":"9C","j":33,"y":0.39},{"g":"9C","j":12,"y":0.40},{"g":"9C","j":67,"y":0.44},{"g":"9C","j":49,"y":0.47},{"g":"9C","j":25,"y":0.49},{"g":"9C","j":81,"y":0.52},{"g":"9C","j":38,"y":0.54},{"g":"9C","j":70,"y":0.55},{"g":"9C","j":15,"y":0.59},{"g":"9C","j":54,"y":0.62},{"g":"9C","j":89,"y":0.64},{"g":"9C","j":29,"y":0.65},{"g":"9C","j":62,"y":0.69},{"g":"9C","j":44,"y":0.72},{"g":"9C","j":17,"y":0.74},{"g":"9C","j":75,"y":0.77},{"g":"9C","j":36,"y":0.79},{"g":"9C","j":59,"y":0.80},{"g":"9C","j":83,"y":0.84},{"g":"9C","j":22,"y":0.87},{"g":"9C","j":48,"y":0.89},{"g":"9C","j":68,"y":0.90},{"g":"9C","j":11,"y":0.94},{"g":"9C","j":56,"y":0.97},{"g":"9C","j":31,"y":0.99},
{"g":"10A","j":24,"y":0.00},{"g":"10A","j":50,"y":0.03},{"g":"10A","j":78,"y":0.06},{"g":"10A","j":18,"y":0.08},{"g":"10A","j":42,"y":0.11},{"g":"10A","j":67,"y":0.13},{"g":"10A","j":30,"y":0.16},{"g":"10A","j":84,"y":0.18},{"g":"10A","j":59,"y":0.21},{"g":"10A","j":16,"y":0.23},{"g":"10A","j":55,"y":0.26},{"g":"10A","j":13,"y":0.28},{"g":"10A","j":80,"y":0.31},{"g":"10A","j":34,"y":0.33},{"g":"10A","j":66,"y":0.36},{"g":"10A","j":22,"y":0.38},{"g":"10A","j":89,"y":0.41},{"g":"10A","j":47,"y":0.43},{"g":"10A","j":29,"y":0.46},{"g":"10A","j":72,"y":0.48},{"g":"10A","j":17,"y":0.51},{"g":"10A","j":61,"y":0.53},{"g":"10A","j":40,"y":0.56},{"g":"10A","j":85,"y":0.58},{"g":"10A","j":26,"y":0.61},{"g":"10A","j":51,"y":0.63},{"g":"10A","j":11,"y":0.66},{"g":"10A","j":76,"y":0.68},{"g":"10A","j":37,"y":0.71},{"g":"10A","j":69,"y":0.73},{"g":"10A","j":20,"y":0.76},{"g":"10A","j":57,"y":0.78},{"g":"10A","j":83,"y":0.81},{"g":"10A","j":31,"y":0.83},{"g":"10A","j":45,"y":0.86},{"g":"10A","j":14,"y":0.88},{"g":"10A","j":73,"y":0.90},{"g":"10A","j":63,"y":0.92},{"g":"10A","j":36,"y":0.94},{"g":"10A","j":88,"y":0.96},
{"g":"10B","j":27,"y":0.05},{"g":"10B","j":70,"y":0.06},{"g":"10B","j":12,"y":0.09},{"g":"10B","j":47,"y":0.11},{"g":"10B","j":86,"y":0.13},{"g":"10B","j":33,"y":0.16},{"g":"10B","j":60,"y":0.18},{"g":"10B","j":21,"y":0.21},{"g":"10B","j":76,"y":0.23},{"g":"10B","j":44,"y":0.25},{"g":"10B","j":15,"y":0.28},{"g":"10B","j":89,"y":0.30},{"g":"10B","j":52,"y":0.33},{"g":"10B","j":29,"y":0.35},{"g":"10B","j":68,"y":0.37},{"g":"10B","j":37,"y":0.40},{"g":"10B","j":80,"y":0.42},{"g":"10B","j":11,"y":0.45},{"g":"10B","j":58,"y":0.47},{"g":"10B","j":25,"y":0.49},{"g":"10B","j":73,"y":0.52},{"g":"10B","j":42,"y":0.54},{"g":"10B","j":85,"y":0.57},{"g":"10B","j":31,"y":0.59},{"g":"10B","j":62,"y":0.61},{"g":"10B","j":19,"y":0.64},{"g":"10B","j":50,"y":0.66},{"g":"10B","j":78,"y":0.69},{"g":"10B","j":35,"y":0.71},{"g":"10B","j":66,"y":0.72},
{"g":"10C","j":60,"y":0.00},{"g":"10C","j":33,"y":0.03},{"g":"10C","j":77,"y":0.07},{"g":"10C","j":53,"y":0.08},{"g":"10C","j":21,"y":0.10},{"g":"10C","j":65,"y":0.13},{"g":"10C","j":44,"y":0.17},{"g":"10C","j":83,"y":0.18},{"g":"10C","j":29,"y":0.20},{"g":"10C","j":70,"y":0.23},{"g":"10C","j":23,"y":0.25},{"g":"10C","j":71,"y":0.28},{"g":"10C","j":45,"y":0.32},{"g":"10C","j":88,"y":0.35},{"g":"10C","j":14,"y":0.36},{"g":"10C","j":56,"y":0.38},{"g":"10C","j":37,"y":0.42},{"g":"10C","j":79,"y":0.45},{"g":"10C","j":62,"y":0.46},{"g":"10C","j":19,"y":0.50},{"g":"10C","j":84,"y":0.51},{"g":"10C","j":30,"y":0.53},{"g":"10C","j":51,"y":0.57},{"g":"10C","j":66,"y":0.60},{"g":"10C","j":12,"y":0.61},{"g":"10C","j":42,"y":0.63},{"g":"10C","j":75,"y":0.67},{"g":"10C","j":27,"y":0.70},{"g":"10C","j":90,"y":0.71},{"g":"10C","j":58,"y":0.75},{"g":"10C","j":35,"y":0.76},{"g":"10C","j":68,"y":0.78},{"g":"10C","j":16,"y":0.82},{"g":"10C","j":81,"y":0.85},{"g":"10C","j":48,"y":0.86},{"g":"10C","j":25,"y":0.90},{"g":"10C","j":73,"y":0.92},{"g":"10C","j":40,"y":0.95},{"g":"10C","j":86,"y":0.97},{"g":"10C","j":10,"y":0.98},
{"g":"11A","j":89,"y":0.00},{"g":"11A","j":29,"y":0.04},{"g":"11A","j":62,"y":0.05},{"g":"11A","j":44,"y":0.09},{"g":"11A","j":17,"y":0.12},{"g":"11A","j":75,"y":0.14},{"g":"11A","j":36,"y":0.15},{"g":"11A","j":59,"y":0.19},{"g":"11A","j":83,"y":0.22},{"g":"11A","j":22,"y":0.24},{"g":"11A","j":48,"y":0.27},{"g":"11A","j":68,"y":0.29},{"g":"11A","j":11,"y":0.30},{"g":"11A","j":56,"y":0.34},{"g":"11A","j":31,"y":0.37},{"g":"11A","j":79,"y":0.39},{"g":"11A","j":43,"y":0.40},{"g":"11A","j":27,"y":0.44},{"g":"11A","j":72,"y":0.47},{"g":"11A","j":14,"y":0.49},{"g":"11A","j":63,"y":0.52},{"g":"11A","j":87,"y":0.54},{"g":"11A","j":35,"y":0.55},{"g":"11A","j":52,"y":0.59},{"g":"11A","j":20,"y":0.62},{"g":"11A","j":41,"y":0.64},{"g":"11A","j":77,"y":0.65},{"g":"11A","j":24,"y":0.69},{"g":"11A","j":58,"y":0.72},{"g":"11A","j":86,"y":0.74},{"g":"11A","j":33,"y":0.77},{"g":"11A","j":12,"y":0.79},{"g":"11A","j":67,"y":0.80},{"g":"11A","j":49,"y":0.84},{"g":"11A","j":25,"y":0.87},{"g":"11A","j":81,"y":0.89},{"g":"11A","j":38,"y":0.90},{"g":"11A","j":70,"y":0.94},{"g":"11A","j":15,"y":0.97},{"g":"11A","j":54,"y":1.00},
{"g":"11B","j":51,"y":0.03},{"g":"11B","j":11,"y":0.07},{"g":"11B","j":76,"y":0.08},{"g":"11B","j":37,"y":0.12},{"g":"11B","j":69,"y":0.13},{"g":"11B","j":20,"y":0.17},{"g":"11B","j":57,"y":0.19},{"g":"11B","j":83,"y":0.22},{"g":"11B","j":31,"y":0.22},{"g":"11B","j":45,"y":0.26},{"g":"11B","j":14,"y":0.29},{"g":"11B","j":73,"y":0.31},{"g":"11B","j":63,"y":0.34},{"g":"11B","j":36,"y":0.34},{"g":"11B","j":88,"y":0.38},{"g":"11B","j":24,"y":0.41},{"g":"11B","j":50,"y":0.43},{"g":"11B","j":78,"y":0.46},{"g":"11B","j":18,"y":0.46},{"g":"11B","j":42,"y":0.50},{"g":"11B","j":67,"y":0.53},{"g":"11B","j":30,"y":0.55},{"g":"11B","j":84,"y":0.58},{"g":"11B","j":59,"y":0.58},{"g":"11B","j":16,"y":0.62},{"g":"11B","j":55,"y":0.65},{"g":"11B","j":13,"y":0.67},{"g":"11B","j":80,"y":0.70},{"g":"11B","j":34,"y":0.71},{"g":"11B","j":66,"y":0.73},
{"g":"11C","j":19,"y":0.00},{"g":"11C","j":50,"y":0.03},{"g":"11C","j":78,"y":0.05},{"g":"11C","j":35,"y":0.08},{"g":"11C","j":66,"y":0.10},{"g":"11C","j":24,"y":0.13},{"g":"11C","j":57,"y":0.15},{"g":"11C","j":13,"y":0.18},{"g":"11C","j":46,"y":0.20},{"g":"11C","j":88,"y":0.23},{"g":"11C","j":64,"y":0.25},{"g":"11C","j":18,"y":0.28},{"g":"11C","j":82,"y":0.30},{"g":"11C","j":39,"y":0.32},{"g":"11C","j":55,"y":0.35},{"g":"11C","j":27,"y":0.37},{"g":"11C","j":70,"y":0.40},{"g":"11C","j":12,"y":0.42},{"g":"11C","j":47,"y":0.45},{"g":"11C","j":86,"y":0.47},{"g":"11C","j":33,"y":0.50},{"g":"11C","j":60,"y":0.52},{"g":"11C","j":21,"y":0.54},{"g":"11C","j":76,"y":0.57},{"g":"11C","j":44,"y":0.59},{"g":"11C","j":15,"y":0.62},{"g":"11C","j":89,"y":0.64},{"g":"11C","j":52,"y":0.67},{"g":"11C","j":29,"y":0.69},{"g":"11C","j":68,"y":0.71},{"g":"11C","j":37,"y":0.74},{"g":"11C","j":80,"y":0.76},{"g":"11C","j":11,"y":0.79},{"g":"11C","j":58,"y":0.81},{"g":"11C","j":25,"y":0.83},{"g":"11C","j":73,"y":0.86},{"g":"11C","j":42,"y":0.88},{"g":"11C","j":85,"y":0.91},{"g":"11C","j":31,"y":0.93},{"g":"11C","j":62,"y":0.95},
{"g":"12A","j":84,"y":0.00},{"g":"12A","j":30,"y":0.03},{"g":"12A","j":51,"y":0.07},{"g":"12A","j":66,"y":0.08},{"g":"12A","j":12,"y":0.10},{"g":"12A","j":42,"y":0.13},{"g":"12A","j":75,"y":0.17},{"g":"12A","j":27,"y":0.18},{"g":"12A","j":90,"y":0.20},{"g":"12A","j":58,"y":0.23},{"g":"12A","j":35,"y":0.25},{"g":"12A","j":68,"y":0.28},{"g":"12A","j":16,"y":0.32},{"g":"12A","j":81,"y":0.35},{"g":"12A","j":48,"y":0.36},{"g":"12A","j":25,"y":0.38},{"g":"12A","j":73,"y":0.42},{"g":"12A","j":40,"y":0.45},{"g":"12A","j":86,"y":0.46},{"g":"12A","j":10,"y":0.50},{"g":"12A","j":60,"y":0.51},{"g":"12A","j":33,"y":0.53},{"g":"12A","j":77,"y":0.57},{"g":"12A","j":53,"y":0.60},{"g":"12A","j":21,"y":0.61},{"g":"12A","j":65,"y":0.63},{"g":"12A","j":44,"y":0.67},{"g":"12A","j":83,"y":0.70},{"g":"12A","j":29,"y":0.71},{"g":"12A","j":70,"y":0.75},{"g":"12A","j":23,"y":0.76},{"g":"12A","j":71,"y":0.78},{"g":"12A","j":45,"y":0.82},{"g":"12A","j":88,"y":0.85},{"g":"12A","j":14,"y":0.86},{"g":"12A","j":56,"y":0.90},{"g":"12A","j":37,"y":0.92},{"g":"12A","j":79,"y":0.94},{"g":"12A","j":62,"y":0.96},{"g":"12A","j":19,"y":0.97},
{"g":"12B","j":48,"y":0.03},{"g":"12B","j":68,"y":0.05},{"g":"12B","j":11,"y":0.08},{"g":"12B","j":56,"y":0.10},{"g":"12B","j":31,"y":0.14},{"g":"12B","j":79,"y":0.15},{"g":"12B","j":43,"y":0.19},{"g":"12B","j":27,"y":0.20},{"g":"12B","j":72,"y":0.24},{"g":"12B","j":14,"y":0.26},{"g":"12B","j":63,"y":0.27},{"g":"12B","j":87,"y":0.31},{"g":"12B","j":35,"y":0.32},{"g":"12B","j":52,"y":0.36},{"g":"12B","j":20,"y":0.38},{"g":"12B","j":41,"y":0.39},{"g":"12B","j":77,"y":0.43},{"g":"12B","j":24,"y":0.44},{"g":"12B","j":58,"y":0.48},{"g":"12B","j":86,"y":0.50},{"g":"12B","j":33,"y":0.51},{"g":"12B","j":12,"y":0.55},{"g":"12B","j":67,"y":0.56},{"g":"12B","j":49,"y":0.60},{"g":"12B","j":25,"y":0.62},{"g":"12B","j":81,"y":0.63},{"g":"12B","j":38,"y":0.67},{"g":"12B","j":70,"y":0.68},{"g":"12B","j":15,"y":0.70},{"g":"12B","j":54,"y":0.72},
{"g":"12C","j":14,"y":0.03},{"g":"12C","j":73,"y":0.04},{"g":"12C","j":63,"y":0.05},{"g":"12C","j":36,"y":0.09},{"g":"12C","j":88,"y":0.12},{"g":"12C","j":24,"y":0.14},{"g":"12C","j":50,"y":0.15},{"g":"12C","j":78,"y":0.19},{"g":"12C","j":18,"y":0.22},{"g":"12C","j":42,"y":0.24},{"g":"12C","j":67,"y":0.27},{"g":"12C","j":30,"y":0.29},{"g":"12C","j":84,"y":0.30},{"g":"12C","j":59,"y":0.34},{"g":"12C","j":16,"y":0.37},{"g":"12C","j":55,"y":0.39},{"g":"12C","j":13,"y":0.40},{"g":"12C","j":80,"y":0.44},{"g":"12C","j":34,"y":0.47},{"g":"12C","j":66,"y":0.49},{"g":"12C","j":22,"y":0.52},{"g":"12C","j":89,"y":0.54},{"g":"12C","j":47,"y":0.55},{"g":"12C","j":29,"y":0.59},{"g":"12C","j":72,"y":0.62},{"g":"12C","j":17,"y":0.64},{"g":"12C","j":61,"y":0.65},{"g":"12C","j":40,"y":0.69},{"g":"12C","j":85,"y":0.72},{"g":"12C","j":26,"y":0.74},{"g":"12C","j":51,"y":0.77},{"g":"12C","j":11,"y":0.79},{"g":"12C","j":76,"y":0.80},{"g":"12C","j":37,"y":0.84},{"g":"12C","j":69,"y":0.87},{"g":"12C","j":20,"y":0.89},{"g":"12C","j":57,"y":0.90},{"g":"12C","j":83,"y":0.94},{"g":"12C","j":31,"y":0.97},{"g":"12C","j":45,"y":0.98},
{"g":"ann","j":50,"y":0.875}
]
},
"spacing":6,
"hconcat":[
{
"spacing":1,
"vconcat":[
{
"width":570,"height":19,
"data":{"values":[{"l":"Frother Type"}]},
"view":{"fill":"#DCDACB","stroke":"#D0CEC0"},
"mark":{"type":"text","fontSize":12,"fontWeight":"bold","color":"#222222","font":"Open Sans"},
"encoding":{"text":{"field":"l"}}
},
{
"data":{"name":"pts"},
"transform":[{"lookup":"g","from":{"data":{"name":"grp"},"key":"g","fields":["n","w","r","c","e"]}}],
"bounds":"flush",
"facet":{
"row":{"field":"r","type":"ordinal","header":{"title":"Particle size","labels":false,"labelPadding":0,"titlePadding":0,"titleFontSize":12,"titleFontWeight":"normal","titleColor":"#333333","titleFont":"Open Sans"}},
"column":{"field":"c","type":"ordinal","header":{"title":"Water Type","titleOrient":"bottom","labels":false,"labelPadding":0,"titlePadding":-1,"titleFontSize":12,"titleFontWeight":"normal","titleColor":"#333333","titleFont":"Open Sans"}}
},
"spacing":{"row":0,"column":0},
"spec":{
"width":190,"height":154,
"resolve":{"axis":{"y":"independent"}},
"layer":[
{
"transform":[{"filter":"datum.g != 'ann'"}],
"mark":{"type":"point","filled":true,"size":50,"opacity":1},
"encoding":{
"x":{"field":"w","type":"nominal","scale":{"type":"band","paddingInner":0,"paddingOuter":0},"axis":{"title":null,"ticks":false,"domain":false,"labelAngle":0,"labelFontSize":12,"labelColor":"#333333","labelPadding":1,"labelFont":"Open Sans"}},
"xOffset":{"field":"j","type":"quantitative","scale":{"domain":[-12,112]}},
"y":{"field":"y","type":"quantitative","scale":{"domain":[-0.058,1.225],"nice":false,"zero":false},"axis":{"title":null,"orient":"left","values":[0,0.2,0.4,0.6,0.8,1],"labelExpr":"datum.value==0 ? '0' : format(datum.value,'.1f')","tickSize":6,"domain":false,"grid":false,"tickColor":"#8C8C8C","labelColor":"#333333","labelFontSize":12,"labelPadding":2,"labelOverlap":false,"labelFont":"Open Sans"}},
"color":{"field":"e","type":"quantitative","scale":{"type":"quantize","domain":[0.15,0.5],"nice":false,"zero":false,"range":["#2B3BFF","#7A82E6","#C0C0C0","#E06666","#FF0000"]},"legend":null}
}
},
{
"transform":[{"aggregate":[{"op":"count","as":"k"}],"groupby":["r","c","n"]}],
"layer":[
{"mark":{"type":"rect","fill":"#E9E8DF","stroke":"#D3D2C8","strokeWidth":1},"encoding":{"y":{"datum":1.075,"axis":null},"y2":{"datum":1.225}}},
{"mark":{"type":"text","fontSize":12,"color":"#222222","font":"Open Sans"},"encoding":{"y":{"datum":1.15,"axis":null},"text":{"field":"n"}}}
]
},
{
"transform":[{"filter":"datum.g == 'ann'"}],
"mark":{"type":"point","shape":"M-1,0A1,0.6 0 1,1 1,0A1,0.6 0 1,1 -1,0Z","filled":false,"stroke":"#37474F","strokeWidth":3,"size":4225,"opacity":1},
"encoding":{
"x":{"field":"w","type":"nominal"},
"xOffset":{"field":"j","type":"quantitative"},
"y":{"field":"y","type":"quantitative","axis":{"title":null,"orient":"left","values":[0.1,0.3,0.5,0.7,0.9],"labels":false,"tickSize":3,"domain":false,"grid":false,"tickColor":"#8C8C8C"}}
}
}
]
}
}
]
},
{
"width":22,"height":150,
"view":{"stroke":null,"fill":null},
"layer":[
{
"data":{"name":"leg"},
"mark":{"type":"rect"},
"encoding":{
"y":{"field":"lo","type":"quantitative","scale":{"domain":[0.0632,0.5346],"nice":false,"zero":false},"axis":null},
"y2":{"field":"hi"},
"color":{"field":"e","type":"quantitative","scale":{"type":"quantize","domain":[0.15,0.5],"nice":false,"zero":false,"range":["#2B3BFF","#7A82E6","#C0C0C0","#E06666","#FF0000"]},"legend":null}
}
},
{
"data":{"name":"lt"},
"mark":{"type":"rule","strokeWidth":1},
"encoding":{
"x":{"datum":22,"type":"quantitative","scale":{"domain":[0,22],"nice":false,"zero":false},"axis":null},
"x2":{"datum":27},
"y":{"field":"v","type":"quantitative"},
"color":{"field":"v","type":"quantitative","legend":null}
}
},
{
"data":{"name":"lt"},
"mark":{"type":"text","align":"left","baseline":"middle","fontSize":12,"color":"#333333","font":"Open Sans"},
"encoding":{"x":{"datum":33,"type":"quantitative"},"y":{"field":"v","type":"quantitative"},"text":{"field":"v","type":"quantitative","format":".2f"}}
},
{
"data":{"values":[{"lab":"Efficiency"}]},
"mark":{"type":"text","align":"left","baseline":"middle","fontSize":12,"color":"#333333","font":"Open Sans"},
"encoding":{"x":{"datum":59,"type":"quantitative"},"y":{"datum":0.324,"type":"quantitative"},"text":{"field":"lab"}}
},
{
"data":{"values":[{"lab":"Particle size"}]},
"mark":{"type":"point","filled":true,"color":"#000000","size":30,"opacity":1},
"encoding":{"x":{"datum":7,"type":"quantitative"},"y":{"datum":0.098,"type":"quantitative"}}
},
{
"data":{"values":[{"lab":"Particle size"}]},
"mark":{"type":"text","align":"left","baseline":"middle","fontSize":12,"color":"#333333","font":"Open Sans"},
"encoding":{"x":{"datum":19,"type":"quantitative"},"y":{"datum":0.098,"type":"quantitative"},"text":{"field":"lab"}}
}
]
}
],
"config":{"font":"Open Sans","view":{"stroke":"#BDBDBD","fill":"#FFFFFF"}}
}
